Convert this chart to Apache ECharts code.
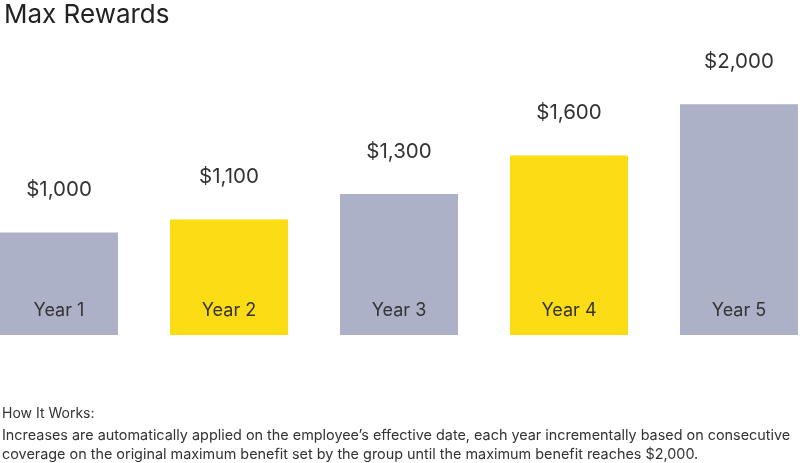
<!DOCTYPE html>
<html>
<head>
<meta charset="utf-8">
<script src="https://cdn.jsdelivr.net/npm/echarts@6/dist/echarts.min.js"></script>
<style>html,body{margin:0;padding:0;background:#fff}#c{width:800px;height:463px}</style>
</head>
<body>
<div id="c"></div>
<script>
const categories = ['Year 1', 'Year 2', 'Year 3', 'Year 4', 'Year 5'];
const rewards = [1000, 1100, 1300, 1600, 2000];
const barColors = ['#acb1c8', '#fcdc14', '#acb1c8', '#fcdc14', '#acb1c8'];
const titleText = 'Max Rewards';
const footerHead = 'How It Works:';
const footerLines = [
  'Increases are automatically applied on the employee\u2019s effective date, each year incrementally based on consecutive',
  'coverage on the original maximum benefit set by the group until the maximum benefit reaches $2,000.'
];
const FONT = 'Inter, "Noto Sans", sans-serif';

const chart = echarts.init(document.getElementById('c'));
chart.setOption({
  animation: false,
  textStyle: { fontFamily: FONT },
  title: {
    text: titleText, left: -1, top: -3,
    textStyle: { fontSize: 26, fontWeight: 'normal', color: '#222', fontFamily: FONT }
  },
  grid: { left: -26, right: -24, top: 99, bottom: 128, containLabel: false, outerBoundsMode: 'none' },
  xAxis: {
    type: 'category', data: categories,
    axisLine: { show: false }, axisTick: { show: false },
    axisLabel: { inside: true, margin: 15, fontSize: 18, color: '#333', fontFamily: FONT },
    z: 10
  },
  yAxis: { type: 'value', min: 200, max: 2040, show: false, splitLine: { show: false } },
  series: [{
    type: 'bar',
    data: rewards.map((v, i) => ({ value: v, itemStyle: { color: barColors[i] } })),
    barCategoryGap: '30.6%',
    label: {
      show: true, position: 'top', distance: 32,
      fontSize: 20.5, color: '#333', fontFamily: FONT,
      formatter: p => '$' + p.value.toLocaleString('en-US')
    }
  }],
  graphic: [
    { type: 'text', left: 2, top: 407, style: { text: footerHead, fontSize: 14, fill: '#333', fontFamily: FONT } },
    { type: 'text', left: 2, top: 426, style: { text: footerLines.join('\n'), fontSize: 14.4, lineHeight: 19, fill: '#333', fontFamily: FONT } }
  ]
});
</script>
</body>
</html>
